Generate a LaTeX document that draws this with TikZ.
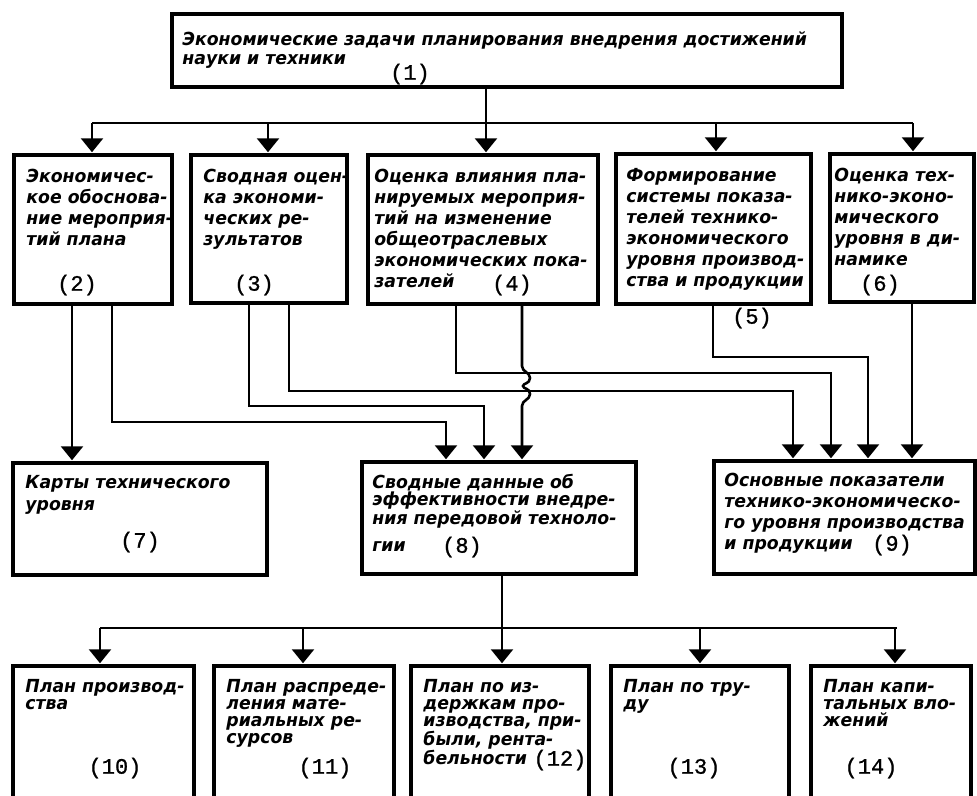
\documentclass[tikz,border=0pt]{standalone}
\usepackage{fontspec}
\setmainfont{DejaVu Sans}
\newfontfamily\blkfont{DejaVu Sans}[FakeStretch=0.96]
\newfontfamily\numfont{Liberation Mono}[FakeBold=1]
\usetikzlibrary{arrows.meta}
\newcommand{\bx}[5]{\node[blk,minimum width={#4-#2},minimum height={#5-#3}] (#1) at ({(#2+#4)/2},{(#3+#5)/2}) {};}

\begin{document}
\begin{tikzpicture}[x=1pt,y=-1pt,
  blk/.style={draw,line width=3.5pt,inner sep=0pt},
  txt/.style={anchor=north west,inner sep=0pt,align=left,font=\blkfont\bfseries\itshape\fontsize{18}{17}\selectfont},
  txtw/.style={txt,font=\blkfont\bfseries\itshape\fontsize{18}{21}\selectfont},
  num/.style={inner sep=0pt,font=\numfont\fontsize{22}{22}\selectfont},
  con/.style={line width=2.6pt},
  arr/.style={con,-{Triangle[width=22pt,length=14pt]},shorten >=1pt}]
\useasboundingbox (0,0) rectangle (977,795);
\clip (0,0) rectangle (977,795);
\bx{b1}{172}{14}{842}{87}
\bx{b2}{14}{155}{172}{304}\bx{b3}{191}{155}{347}{303}\bx{b4}{368}{155}{598}{304}
\bx{b5}{616}{154}{811}{304}\bx{b6}{830}{154}{974}{302}
\bx{b7}{13}{463}{267}{575}\bx{b8}{362}{462}{636}{574}\bx{b9}{714}{461}{975}{574}
\bx{b10}{13}{666}{194}{810}\bx{b11}{214}{666}{394}{810}\bx{b12}{411}{666}{589}{810}
\bx{b13}{611}{666}{789}{810}\bx{b14}{811}{666}{971}{810}
\node[txt] (t1) at ([shift={(12,19)}]b1.north west) {Экономические задачи планирования внедрения достижений\\[2pt]науки и техники};
\node[txtw] (t2) at ([shift={(14,16)}]b2.north west) {Экономичес-\\кое обоснова-\\ние мероприя-\\тий плана};
\node[txtw] (t3) at ([shift={(14,16)}]b3.north west) {Сводная оцен-\\ка экономи-\\ческих ре-\\зультатов};
\node[txtw] (t4) at ([shift={(8,16)}]b4.north west) {Оценка влияния пла-\\нируемых мероприя-\\тий на изменение\\общеотраслевых\\экономических пока-\\зателей};
\node[txtw] (t5) at ([shift={(12,16)}]b5.north west) {Формирование\\системы показа-\\телей технико-\\экономического\\уровня производ-\\ства и продукции};
\node[txtw] (t6) at ([shift={(6,16)}]b6.north west) {Оценка тех-\\нико-эконо-\\мического\\уровня в ди-\\намике};
\node[txt] (t7) at ([shift={(14,14)}]b7.north west) {Карты технического\\[5pt]уровня};
\node[txt] (t8) at ([shift={(12,14)}]b8.north west) {Сводные данные об\\эффективности внедре-\\ния передовой техноло-\\[10pt]гии};
\node[txt] (t9) at ([shift={(12,14)}]b9.north west) {Основные показатели\\[4pt]технико-экономическо-\\[4pt]го уровня производства\\[4pt]и продукции};
\node[txt] (t10) at ([shift={(14,15)}]b10.north west) {План производ-\\ства};
\node[txt] (t11) at ([shift={(14,15)}]b11.north west) {План распреде-\\ления мате-\\риальных ре-\\сурсов};
\node[txt] (t12) at ([shift={(14,15)}]b12.north west) {План по из-\\держкам про-\\изводства, при-\\были, рента-\\бельности};
\node[txt] (t13) at ([shift={(14,15)}]b13.north west) {План по тру-\\ду};
\node[txt] (t14) at ([shift={(14,15)}]b14.north west) {План капи-\\тальных вло-\\жений};
\node[num] (n1) at (410,74) {(1)};
\node[num] (n2) at (77,285) {(2)};
\node[num] (n3) at (254,285) {(3)};
\node[num] (n4) at (512,285) {(4)};
\node[num] (n5) at (752,318) {(5)};
\node[num] (n6) at (880,285) {(6)};
\node[num] (n7) at (140,542) {(7)};
\node[num] (n8) at (462,547) {(8)};
\node[num] (n9) at (892,545) {(9)};
\node[num] (n10) at (115,768) {(10)};
\node[num] (n11) at (325,768) {(11)};
\node[num] (n12) at (560,760) {(12)};
\node[num] (n13) at (694,768) {(13)};
\node[num] (n14) at (871,768) {(14)};
\coordinate (u1) at (92,123);\coordinate (u2) at (913,123);
\draw[con] (b1.south -| 486,0) -- (486,123) (u1) -- (u2);
\foreach \n/\x in {b2/92,b3/268,b4/486,b5/716,b6/913}
  \draw[arr] (\x,123) -- (\n.north -| \x,0);
\draw[arr] (b2.south -| 72,0) -- (b7.north -| 72,0);
\draw[arr] (b2.south -| 112,0) |- (446,422) -- (b8.north -| 446,0);
\draw[arr] (b3.south -| 249,0) |- (484,406) -- (b8.north -| 484,0);
\draw[arr] (b3.south -| 289,0) |- (793,391) -- (b9.north -| 793,0);
\draw[arr] (b4.south -| 456,0) |- (831,373) -- (b9.north -| 831,0);
\draw[arr] (b4.south -| 522,0) -- (522,366) .. controls (522,372) and (530,372) .. (530,378)
  .. controls (530,384) and (523,383) .. (523,386) .. controls (523,389) and (530,388) .. (530,394)
  .. controls (530,400) and (522,400) .. (522,406) -- (b8.north -| 522,0);
\draw[arr] (b5.south -| 713,0) |- (868,357) -- (b9.north -| 868,0);
\draw[arr] (b6.south -| 912,0) -- (b9.north -| 912,0);
\coordinate (v1) at (100,628);\coordinate (v2) at (897,628);
\draw[con] (b8.south -| 502,0) -- (502,628) (v1) -- (v2);
\foreach \n/\x in {b10/100,b11/303,b12/502,b13/700,b14/895}
  \draw[arr] (\x,628) -- (\n.north -| \x,0);
\end{tikzpicture}
\end{document}
